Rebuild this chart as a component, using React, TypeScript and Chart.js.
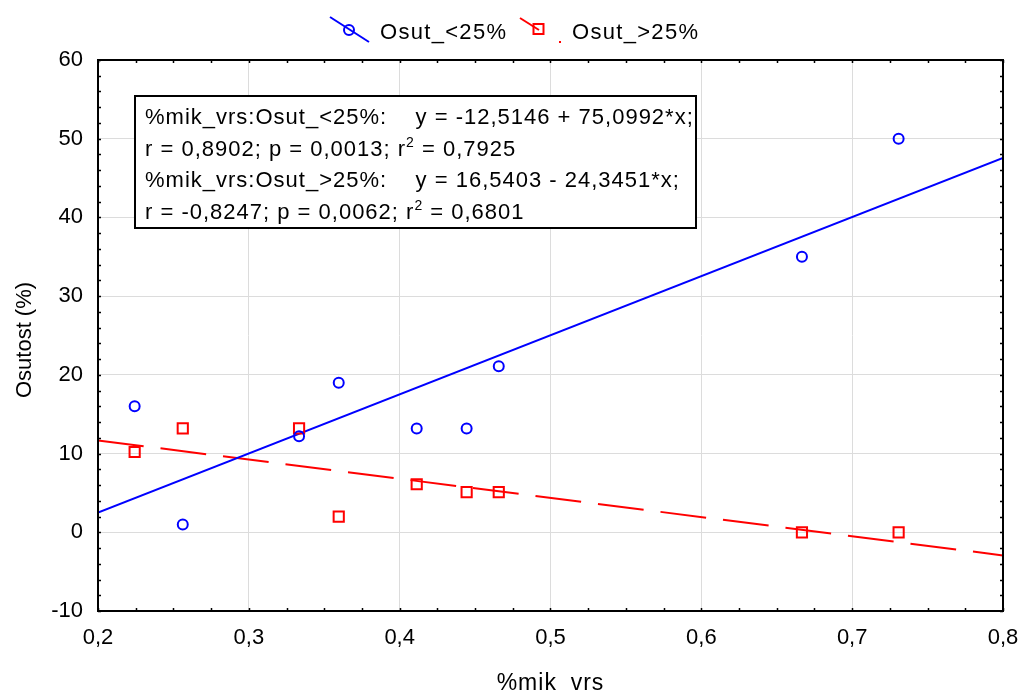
import React, { useEffect, useRef } from 'react';
import { Chart, registerables } from 'chart.js';

Chart.register(...registerables);

// ---------- data ----------
const mikVrs = [0.2243, 0.2562, 0.3333, 0.3596, 0.4113, 0.4444, 0.4657, 0.6667, 0.7308];
const osutLess25 = [16.0, 1.0, 12.2, 19.0, 13.2, 13.2, 21.1, 35.0, 50.0];
const osutMore25 = [10.2, 13.2, 13.2, 2.0, 6.1, 5.1, 5.1, 0.0, 0.0];

// regression coefficients printed on the chart
const regLess = { a: -12.5146, b: 75.0992 };
const regMore = { a: 16.5403, b: -24.3451 };

const X_MIN = 0.2;
const X_MAX = 0.8;
const X_STEP = 0.1;
const X_MINOR = 0.025;
const Y_MIN = -10;
const Y_MAX = 60;
const Y_STEP = 10;
const Y_MINOR = 2;

const seriesNames = ['Osut_<25%', 'Osut_>25%'];
const axisTitleX = '%mik_vrs';
const axisTitleY = 'Osutost (%)';

const statLines: Array<Array<[string, boolean]>> = [
  [['%mik_vrs:Osut_<25%:    y = -12,5146 + 75,0992*x;', false]],
  [['r = 0,8902; p = 0,0013; r', false], ['2', true], [' = 0,7925', false]],
  [['%mik_vrs:Osut_>25%:    y = 16,5403 - 24,3451*x;', false]],
  [['r = -0,8247; p = 0,0062; r', false], ['2', true], [' = 0,6801', false]],
];

const BLUE = '#0000ff';
const RED = '#ff0000';
const FONT = 'Arial, "Liberation Sans", sans-serif';

const fmt = (v: number, d: number) => v.toFixed(d).replace('.', ',');

const setSpacing = (ctx: any, s: string) => {
  if ('letterSpacing' in ctx) ctx.letterSpacing = s;
};

const customPlugin = {
  id: 'customDecor',
  afterDraw(chart: any) {
    const ctx: CanvasRenderingContext2D = chart.ctx;
    const { left, right, top, bottom } = chart.chartArea;
    const xs = chart.scales.x;
    const ys = chart.scales.y;
    ctx.save();

    // inward ticks on all four sides
    ctx.strokeStyle = '#000';
    ctx.lineWidth = 1.5;
    ctx.beginPath();
    const nX = Math.round((X_MAX - X_MIN) / X_MINOR);
    for (let i = 0; i <= nX; i++) {
      const px = Math.round(xs.getPixelForValue(X_MIN + i * X_MINOR)) + 0.5;
      ctx.moveTo(px, bottom);
      ctx.lineTo(px, bottom - 3);
      ctx.moveTo(px, top);
      ctx.lineTo(px, top + 3);
    }
    const nY = Math.round((Y_MAX - Y_MIN) / Y_MINOR);
    for (let i = 0; i <= nY; i++) {
      const py = Math.round(ys.getPixelForValue(Y_MIN + i * Y_MINOR)) + 0.5;
      ctx.moveTo(left, py);
      ctx.lineTo(left + 3, py);
      ctx.moveTo(right, py);
      ctx.lineTo(right - 3, py);
    }
    ctx.stroke();

    // frame
    ctx.lineWidth = 2;
    ctx.strokeRect(left, top, right - left, bottom - top);

    // statistics box
    const bx = left + 37;
    const by = top + 36;
    const bw = 561;
    const bh = 132;
    ctx.fillStyle = '#fff';
    ctx.fillRect(bx, by, bw, bh);
    ctx.strokeStyle = '#000';
    ctx.lineWidth = 2;
    ctx.strokeRect(bx, by, bw, bh);
    ctx.fillStyle = '#000';
    ctx.textBaseline = 'alphabetic';
    ctx.textAlign = 'left';
    setSpacing(ctx, '1px');
    statLines.forEach((parts, i) => {
      let x = bx + 10;
      const y = by + 28 + i * 31.7;
      parts.forEach(([txt, sup]) => {
        ctx.font = sup ? `14px ${FONT}` : `22px ${FONT}`;
        ctx.fillText(txt, x, sup ? y - 9 : y);
        x += ctx.measureText(txt).width;
      });
    });

    // legend
    setSpacing(ctx, '0px');
    ctx.lineWidth = 2;
    ctx.strokeStyle = BLUE;
    ctx.beginPath();
    ctx.moveTo(330, 17);
    ctx.lineTo(369, 42);
    ctx.stroke();
    ctx.beginPath();
    ctx.arc(349, 30, 5, 0, Math.PI * 2);
    ctx.stroke();
    ctx.strokeStyle = RED;
    ctx.beginPath();
    ctx.moveTo(520, 18);
    ctx.lineTo(539, 30);
    ctx.stroke();
    ctx.strokeRect(533.5, 24, 10, 10);
    ctx.fillStyle = RED;
    ctx.fillRect(559, 41, 2, 2);
    ctx.fillStyle = '#000';
    ctx.font = `22px ${FONT}`;
    setSpacing(ctx, '1.3px');
    ctx.fillText(seriesNames[0], 380, 39);
    ctx.fillText(seriesNames[1], 572, 39);

    // axis titles
    ctx.font = `23px ${FONT}`;
    ctx.textAlign = 'left';
    setSpacing(ctx, '1px');
    const wX = ctx.measureText(axisTitleX).width;
    ctx.fillText(axisTitleX, (left + right) / 2 - wX / 2, 690);
    ctx.save();
    ctx.translate(31, 340);
    ctx.rotate(-Math.PI / 2);
    ctx.font = `22px ${FONT}`;
    setSpacing(ctx, '0px');
    ctx.textAlign = 'center';
    ctx.fillText(axisTitleY, 0, 0);
    ctx.restore();

    setSpacing(ctx, '0px');
    ctx.restore();
  },
};

export default function App() {
  const ref = useRef<HTMLCanvasElement | null>(null);

  useEffect(() => {
    document.body.style.margin = '0';
    const canvas = ref.current;
    if (!canvas) return;

    const ptsLess = mikVrs.map((x, i) => ({ x, y: osutLess25[i] }));
    const ptsMore = mikVrs.map((x, i) => ({ x, y: osutMore25[i] }));
    const lineLess = [X_MIN, X_MAX].map((x) => ({ x, y: regLess.a + regLess.b * x }));
    const lineMore = [X_MIN, X_MAX].map((x) => ({ x, y: regMore.a + regMore.b * x }));

    const chart = new Chart(canvas, {
      type: 'scatter',
      data: {
        datasets: [
          {
            label: seriesNames[0],
            data: ptsLess,
            showLine: false,
            pointStyle: 'circle',
            pointRadius: 5,
            pointBorderWidth: 2,
            borderColor: BLUE,
            backgroundColor: 'rgba(0,0,0,0)',
            order: 0,
          },
          {
            label: seriesNames[1],
            data: ptsMore,
            showLine: false,
            pointStyle: 'rect',
            pointRadius: 7.2,
            pointBorderWidth: 2,
            borderColor: RED,
            backgroundColor: 'rgba(0,0,0,0)',
            order: 0,
          },
          {
            label: 'fit<',
            data: lineLess,
            showLine: true,
            pointRadius: 0,
            borderColor: BLUE,
            borderWidth: 2,
            order: 1,
          },
          {
            label: 'fit>',
            data: lineMore,
            showLine: true,
            pointRadius: 0,
            borderColor: RED,
            borderWidth: 2,
            borderDash: [46, 17],
            order: 1,
          },
        ],
      },
      options: {
        responsive: false,
        animation: false,
        layout: { padding: { left: 0, top: 60, right: 17, bottom: 0 } },
        plugins: {
          legend: { display: false },
          tooltip: { enabled: false },
          title: { display: false },
        },
        scales: {
          x: {
            type: 'linear',
            min: X_MIN,
            max: X_MAX,
            afterFit: (s: any) => {
              s.height = 82;
              s.paddingLeft = 0;
              s.paddingRight = 0;
            },
            ticks: {
              stepSize: X_STEP,
              padding: 14,
              color: '#000',
              font: { family: FONT, size: 22 },
              callback: (v: any) => fmt(Number(v), 1),
              maxRotation: 0,
            },
            grid: { color: '#dcdcdc', lineWidth: 1, drawTicks: false },
            border: { display: false },
          },
          y: {
            type: 'linear',
            min: Y_MIN,
            max: Y_MAX,
            afterFit: (s: any) => {
              s.width = 98;
              s.paddingTop = 0;
              s.paddingBottom = 0;
            },
            ticks: {
              stepSize: Y_STEP,
              padding: 15,
              color: '#000',
              font: { family: FONT, size: 22 },
              callback: (v: any) => String(Math.round(Number(v))),
            },
            grid: { color: '#dcdcdc', lineWidth: 1, drawTicks: false },
            border: { display: false },
          },
        },
      },
      plugins: [customPlugin],
    });

    return () => chart.destroy();
  }, []);

  return (
    <div style={{ width: 1020, height: 693 }}>
      <canvas ref={ref} width={1020} height={693} style={{ display: 'block' }} />
    </div>
  );
}
